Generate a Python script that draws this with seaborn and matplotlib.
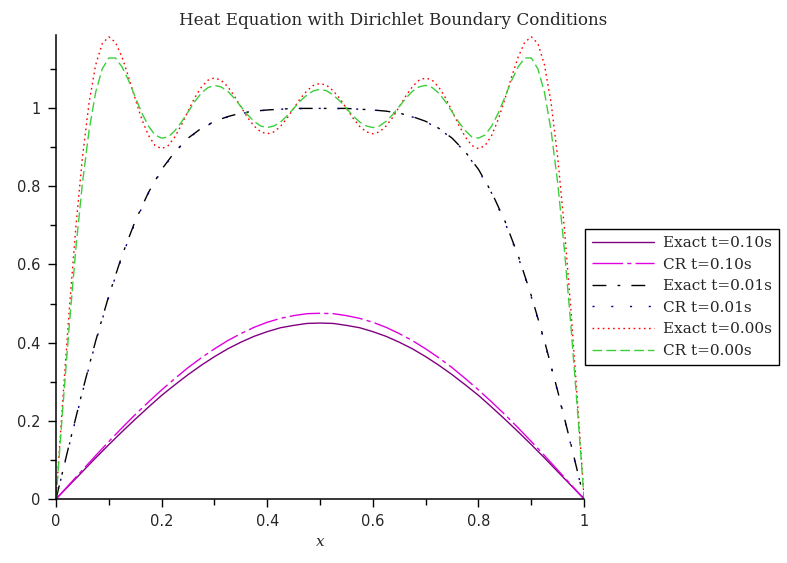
import numpy as np
import matplotlib
matplotlib.use("Agg")
import matplotlib.pyplot as plt
import seaborn as sns

# sample positions along the rod
x_fine = np.linspace(0, 1, 81)
x_coarse = np.linspace(0, 1, 41)

# values
exact_t000 = [0.000, 0.248, 0.483, 0.695, 0.874, 1.013, 1.110, 1.165, 1.182, 1.168,
              1.130, 1.079, 1.023, 0.971, 0.930, 0.904, 0.896, 0.904, 0.926, 0.957,
              0.992, 1.026, 1.053, 1.071, 1.077, 1.071, 1.055, 1.031, 1.003, 0.976,
              0.954, 0.939, 0.934, 0.939, 0.953, 0.974, 0.999, 1.024, 1.044, 1.058,
              1.063,
              1.058, 1.044, 1.024, 0.999, 0.974, 0.953, 0.939, 0.934, 0.939, 0.954,
              0.976, 1.003, 1.031, 1.055, 1.071, 1.077, 1.071, 1.053, 1.026, 0.992,
              0.957, 0.926, 0.904, 0.896, 0.904, 0.930, 0.971, 1.023, 1.079, 1.130,
              1.168, 1.182, 1.165, 1.110, 1.013, 0.874, 0.695, 0.483, 0.248, 0.000]

cr_t000 = [0.000, 0.227, 0.443, 0.640, 0.808, 0.942, 1.040, 1.100, 1.128, 1.128,
           1.105, 1.070, 1.028, 0.987, 0.954, 0.931, 0.923, 0.926, 0.942, 0.964,
           0.990, 1.016, 1.038, 1.052, 1.058, 1.054, 1.043, 1.025, 1.004, 0.983,
           0.966, 0.954, 0.950, 0.954, 0.964, 0.980, 0.999, 1.018, 1.033, 1.044,
           1.048,
           1.044, 1.033, 1.018, 0.999, 0.980, 0.964, 0.954, 0.950, 0.954, 0.966,
           0.983, 1.004, 1.025, 1.043, 1.054, 1.058, 1.052, 1.038, 1.016, 0.990,
           0.964, 0.942, 0.926, 0.923, 0.931, 0.954, 0.987, 1.028, 1.070, 1.105,
           1.128, 1.128, 1.100, 1.040, 0.942, 0.808, 0.640, 0.443, 0.227, 0.000]

exact_t001 = [0.000, 0.140, 0.276, 0.404, 0.520, 0.623, 0.711, 0.784, 0.843, 0.888,
              0.923, 0.948, 0.966, 0.978, 0.987, 0.992, 0.995, 0.997, 0.999, 0.999,
              0.999,
              0.999, 0.999, 0.997, 0.995, 0.992, 0.987, 0.978, 0.966, 0.948, 0.923,
              0.888, 0.843, 0.784, 0.711, 0.623, 0.520, 0.404, 0.276, 0.140, 0.000]

cr_t001 = [0.000, 0.138, 0.273, 0.401, 0.517, 0.620, 0.708, 0.782, 0.841, 0.887,
           0.922, 0.947, 0.965, 0.977, 0.986, 0.991, 0.995, 0.997, 0.998, 0.999,
           0.999,
           0.999, 0.998, 0.997, 0.995, 0.991, 0.986, 0.977, 0.965, 0.947, 0.922,
           0.887, 0.841, 0.782, 0.708, 0.620, 0.517, 0.401, 0.273, 0.138, 0.000]

exact_t010 = [0.000, 0.035, 0.070, 0.105, 0.139, 0.172, 0.204, 0.235, 0.265, 0.292,
              0.318, 0.342, 0.364, 0.384, 0.401, 0.416, 0.428, 0.438, 0.444, 0.449,
              0.450,
              0.449, 0.444, 0.438, 0.428, 0.416, 0.401, 0.384, 0.364, 0.342, 0.318,
              0.292, 0.265, 0.235, 0.204, 0.172, 0.139, 0.105, 0.070, 0.035, 0.000]

cr_t010 = [0.000, 0.037, 0.074, 0.111, 0.147, 0.182, 0.216, 0.248, 0.279, 0.308,
           0.336, 0.361, 0.384, 0.405, 0.423, 0.439, 0.452, 0.462, 0.469, 0.474,
           0.475,
           0.474, 0.469, 0.462, 0.452, 0.439, 0.423, 0.405, 0.384, 0.361, 0.336,
           0.308, 0.279, 0.248, 0.216, 0.182, 0.147, 0.111, 0.074, 0.037, 0.000]

labels = ["Exact t=0.10s", "CR t=0.10s", "Exact t=0.01s",
          "CR t=0.01s", "Exact t=0.00s", "CR t=0.00s"]

x_ticks = [0, 0.2, 0.4, 0.6, 0.8, 1.0]
x_tick_labels = ["0", "0.2", "0.4", "0.6", "0.8", "1"]
x_minor = [0.1, 0.3, 0.5, 0.7, 0.9]
y_ticks = [0, 0.2, 0.4, 0.6, 0.8, 1.0]
y_tick_labels = ["0", "0.2", "0.4", "0.6", "0.8", "1"]
y_minor = [0.1, 0.3, 0.5, 0.7, 0.9, 1.1]

sns.set_style("white")
plt.rcParams["font.family"] = ["DejaVu Sans"]

fig = plt.figure(figsize=(7.87, 5.63), dpi=100)
ax = fig.add_axes([0.0712, 0.1137, 0.671, 0.8243])

# (x, y, colour, dash pattern)
series = [
    (x_coarse, exact_t010, "#800080", None),
    (x_coarse, cr_t010, "#e000e0", (22, 3, 3, 3)),
    (x_coarse, exact_t001, "black", (10, 8, 2, 8)),
    (x_coarse, cr_t001, "#000080", (1.5, 12)),
    (x_fine, exact_t000, "#ff0000", (1.2, 2.5)),
    (x_fine, cr_t000, "#3ccf3c", (7, 3)),
]

for (xs, ys, col, dash), lab in zip(series, labels):
    sns.lineplot(x=xs, y=ys, ax=ax, color=col, lw=1.0, label=lab,
                 sort=False, estimator=None)
    if dash is not None:
        ax.lines[-1].set_dashes(dash)

ax.set_xlim(0, 1)
ax.set_ylim(0, 1.187)
ax.set_xticks(x_ticks)
ax.set_xticklabels(x_tick_labels)
ax.set_xticks(x_minor, minor=True)
ax.set_yticks(y_ticks)
ax.set_yticklabels(y_tick_labels)
ax.set_yticks(y_minor, minor=True)
ax.tick_params(which="both", direction="out", color="black", width=1.0,
               bottom=True, left=True, labelsize=10.5)
ax.tick_params(which="major", length=6, pad=5)
ax.tick_params(which="minor", length=4)

for side in ["top", "right"]:
    ax.spines[side].set_visible(False)
for side in ["left", "bottom"]:
    ax.spines[side].set_color("black")
    ax.spines[side].set_linewidth(1.1)

ax.set_xlabel("x", fontstyle="italic", family="DejaVu Serif", fontsize=11, labelpad=4)
ax.set_ylabel("")

fig.suptitle("Heat Equation with Dirichlet Boundary Conditions",
             family="DejaVu Serif", fontsize=12.1, x=0.5, y=0.964, va="center")

leg = ax.legend(loc="center left", bbox_to_anchor=(0.743, 0.4725),
                bbox_transform=fig.transFigure, prop={"family": "DejaVu Serif", "size": 11},
                frameon=True, fancybox=False, framealpha=1, edgecolor="black",
                handlelength=4.1, handletextpad=0.6, borderaxespad=0,
                labelspacing=0.5, borderpad=0.45)
leg.get_frame().set_linewidth(1.0)

fig.savefig("out.png", dpi=100)
